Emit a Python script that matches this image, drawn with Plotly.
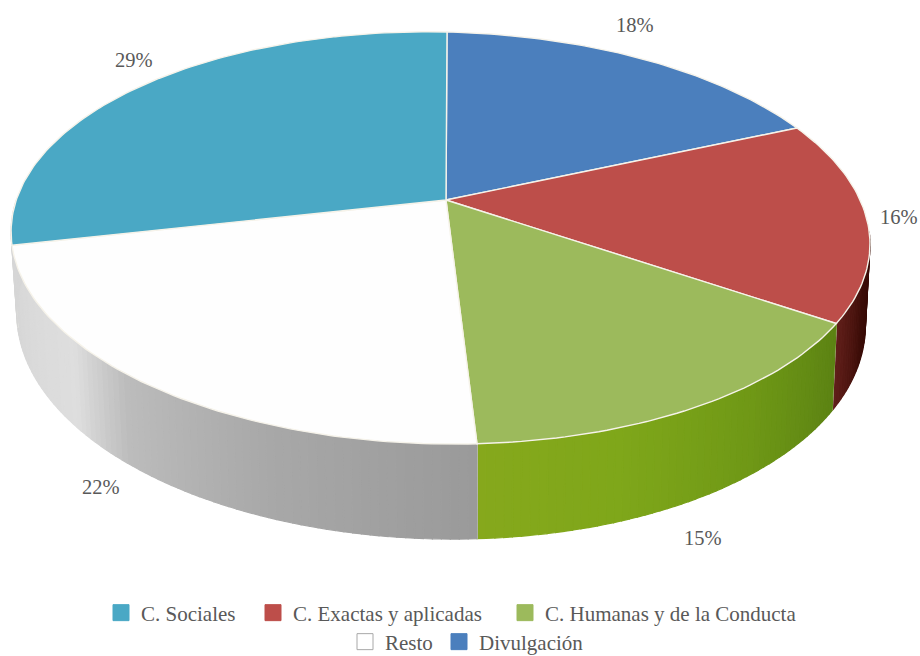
import math
import plotly.graph_objects as go

# Data, clockwise from 12 o'clock
categories = ["Divulgación", "C. Exactas y aplicadas", "C. Humanas y de la Conducta", "Resto", "C. Sociales"]
shares = [18, 16, 15, 22, 29]
labels = ["18%", "16%", "15%", "22%", "29%"]
legend_order = ["C. Sociales", "C. Exactas y aplicadas", "C. Humanas y de la Conducta", "Resto", "Divulgación"]

# Style
top_colors = ["#4b7fbd", "#bd4e4a", "#9cba5c", "#fefefe", "#4aa8c5"]
side_stops = [
    [(0, "#2e5a8c"), (1, "#2e5a8c")],
    [(0, "#330804"), (0.55, "#3c0d08"), (1, "#611f1a")],
    [(0, "#5b8213"), (0.35, "#6f9816"), (0.7, "#7fa71a"), (1, "#86a81c")],
    [(0, "#9a9a9a"), (0.3, "#a8a8a8"), (0.55, "#bcbcbc"), (0.68, "#dedede"), (1, "#d6d6d6")],
    [(0, "#d6d6d6"), (1, "#d6d6d6")],
]
label_pos = [(635, 25), (899, 217), (703, 538), (101, 487), (134, 60)]
legend_pos = [(101, 613), (253, 613), (505, 613), (345, 642), (439, 642)]
TEXT = "#595959"
FONT = "Liberation Serif"

# Camera of the tilted pie
CX, CY, A, B, K, M, D, E = 446, 200, 422, 199, 0.1845, 0.012, -7, 1.2


def project(deg):
    t = math.radians(deg)
    x, y = math.sin(t), math.cos(t)
    w = 1 + K * y + M * x
    return CX + (A * x + E * y) / w, CY - (B * y + D * x) / w


def lower(deg):
    px, py = project(deg)
    y = math.cos(math.radians(deg))
    return CX + (px - CX) * 0.988 + 0.5, py + 78 - 17 * y


def mix(stops, f):
    f = max(0, min(1, f))
    for (a, ca), (b, cb) in zip(stops, stops[1:]):
        if f <= b:
            u = (f - a) / (b - a) if b > a else 0
            rgb = [round(int(ca[i:i + 2], 16) * (1 - u) + int(cb[i:i + 2], 16) * u) for i in (1, 3, 5)]
            return "rgb(%d,%d,%d)" % tuple(rgb)
    return stops[-1][1]


total = sum(shares)
edges = [0]
for s in shares:
    edges.append(edges[-1] + 360 * s / total)

fig = go.Figure()

# Extruded wall, front half only
for i, s in enumerate(shares):
    lo, hi = max(edges[i], 97), min(edges[i + 1], 268)
    if hi <= lo:
        continue
    n = max(2, int(hi - lo))
    for j in range(n):
        a0 = lo + (hi - lo) * j / n
        a1 = lo + (hi - lo) * (j + 1) / n
        col = mix(side_stops[i], (j + 0.5) / n)
        p0, p1, q1, q0 = project(a0), project(a1), lower(a1), lower(a0)
        fig.add_trace(go.Scatter(
            x=[p0[0], p1[0], q1[0], q0[0], p0[0]], y=[p0[1], p1[1], q1[1], q0[1], p0[1]],
            mode="lines", fill="toself", fillcolor=col, line=dict(color=col, width=1.2),
            hoverinfo="skip", showlegend=False))
    q = project(hi), lower(hi)
    if hi == edges[i + 1]:
        fig.add_trace(go.Scatter(x=[q[0][0], q[1][0]], y=[q[0][1], q[1][1]], mode="lines",
                                 line=dict(color="#f4f4ea", width=1.5), hoverinfo="skip", showlegend=False))

# Top faces
for i, s in enumerate(shares):
    n = max(2, int(s * 3.6))
    pts = [project(edges[i] + (edges[i + 1] - edges[i]) * j / n) for j in range(n + 1)]
    xs = [CX] + [p[0] for p in pts] + [CX]
    ys = [CY] + [p[1] for p in pts] + [CY]
    fig.add_trace(go.Scatter(x=xs, y=ys, mode="lines", fill="toself", fillcolor=top_colors[i],
                             line=dict(color="#f6f3ea", width=1.4), name=categories[i],
                             hoverinfo="name", showlegend=False))

# Legend entries, one legend per entry so that each sits where the reference has it
layout_legends = {}
for n, name in enumerate(legend_order):
    i = categories.index(name)
    key = "legend" if n == 0 else "legend%d" % (n + 1)
    is_blank = top_colors[i] == "#fefefe"
    fig.add_trace(go.Scatter(
        x=[None], y=[None], mode="markers", name=name, legend=key,
        marker=dict(symbol="square", size=16, color="#ffffff" if is_blank else top_colors[i],
                    line=dict(color="#a8a8a8" if is_blank else top_colors[i], width=1))))
    layout_legends[key] = dict(
        x=legend_pos[n][0] / 920, y=1 - legend_pos[n][1] / 656, xanchor="left", yanchor="middle",
        orientation="h", bgcolor="rgba(0,0,0,0)", borderwidth=0, itemwidth=30,
        font=dict(family=FONT, size=21, color=TEXT))

fig.update_layout(
    width=920, height=656, margin=dict(l=0, r=0, t=0, b=0, autoexpand=False), autosize=False,
    paper_bgcolor="white", plot_bgcolor="white",
    xaxis=dict(range=[0, 920], visible=False, fixedrange=True),
    yaxis=dict(range=[656, 0], visible=False, fixedrange=True),
    annotations=[dict(x=p[0], y=p[1], text=t, showarrow=False, xref="x", yref="y",
                      font=dict(family=FONT, size=20.5, color=TEXT))
                 for p, t in zip(label_pos, labels)],
    **layout_legends)

fig.write_html("out.html", config=dict(displayModeBar=False),
               post_script="document.body.style.margin='0';document.body.style.overflow='hidden';")
